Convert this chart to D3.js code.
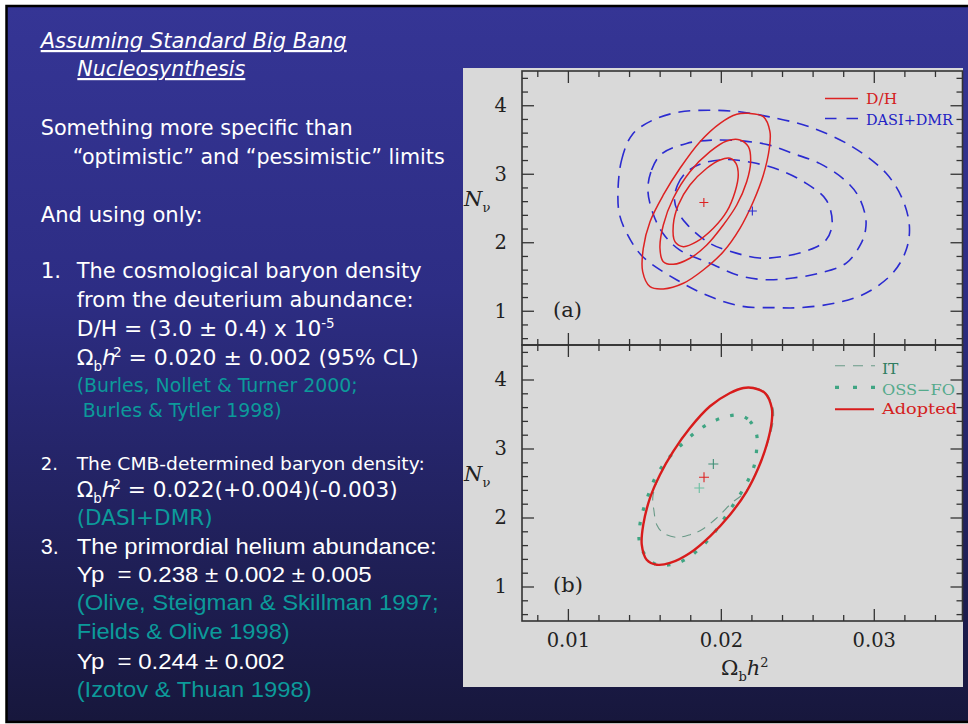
<!DOCTYPE html>
<html>
<head>
<meta charset="utf-8">
<script src="https://cdn.jsdelivr.net/npm/d3@7"></script>
<style>
  html, body { margin: 0; padding: 0; background: #fff; overflow: hidden; }
  text { white-space: pre; }
</style>
</head>
<body>
<svg id="slide" width="968" height="724"></svg>
<script>
// ---------------- data ----------------
// axis ticks
const xMajorTicks = [0.01, 0.02, 0.03];
const xMinorTicks = [0.008, 0.012, 0.014, 0.016, 0.018, 0.022, 0.024, 0.026, 0.028, 0.032, 0.034];
const yMajorTicks = [1, 2, 3, 4];
const yMinorTicks = [0.6, 0.8, 1.2, 1.4, 1.6, 1.8, 2.2, 2.4, 2.6, 2.8, 3.2, 3.4, 3.6, 3.8, 4.2, 4.4];
const xTickLabels = ["0.01", "0.02", "0.03"];
const yTickLabels = ["1", "2", "3", "4"];

// panel (a): D/H contours [Omega_b h^2, N_nu]
const dhInner = [[0.02060,3.226],[0.02099,3.153],[0.02114,2.982],[0.02093,2.738],[0.02038,2.446],[0.01951,2.204],
  [0.01842,2.008],[0.01755,1.935],[0.01700,2.008],[0.01689,2.252],[0.01722,2.544],[0.01798,2.836],[0.01908,3.080],
  [0.01995,3.201]];
const dhMiddle = [[0.02125,3.493],[0.02180,3.395],[0.02195,3.176],[0.02169,2.884],[0.02104,2.544],[0.02016,2.252],
  [0.01908,1.960],[0.01798,1.766],[0.01689,1.678],[0.01624,1.716],[0.01602,1.912],[0.01624,2.252],[0.01689,2.642],
  [0.01798,3.030],[0.01929,3.322],[0.02038,3.478]];
const dhOuter = [[0.02180,3.882],[0.02278,3.833],[0.02321,3.614],[0.02317,3.372],[0.02278,2.982],[0.02212,2.592],
  [0.02125,2.204],[0.02016,1.862],[0.01885,1.595],[0.01755,1.401],[0.01624,1.318],[0.01537,1.351],[0.01489,1.570],
  [0.01493,1.912],[0.01537,2.300],[0.01624,2.690],[0.01733,3.080],[0.01864,3.468],[0.01995,3.736],[0.02104,3.868]];

// panel (a): DASI+DMR contours
const dasiInner = [[0.01697,2.617],[0.01717,2.836],[0.01776,3.025],[0.01880,3.151],[0.02037,3.207],[0.02207,3.163],
  [0.02384,3.054],[0.02558,2.860],[0.02689,2.617],[0.02728,2.278],[0.02689,2.035],[0.02580,1.889],[0.02405,1.792],
  [0.02253,1.769],[0.02101,1.841],[0.01926,1.987],[0.01776,2.268],[0.01717,2.457]];
const dasiMiddle = [[0.01523,2.763],[0.01547,3.054],[0.01612,3.287],[0.01776,3.443],[0.01946,3.491],[0.02155,3.476],
  [0.02318,3.418],[0.02471,3.297],[0.02645,3.151],[0.02797,2.933],[0.02895,2.690],[0.02946,2.374],[0.02946,2.180],
  [0.02918,1.987],[0.02820,1.696],[0.02645,1.550],[0.02471,1.478],[0.02297,1.453],[0.02122,1.511],[0.01926,1.696],
  [0.01730,1.889],[0.01621,2.132],[0.01556,2.424]];
const dasiOuter = [[0.01327,2.690],[0.01351,3.199],[0.01423,3.578],[0.01554,3.782],[0.01730,3.902],[0.01926,3.927],
  [0.02122,3.905],[0.02318,3.830],[0.02580,3.684],[0.02861,3.393],[0.03081,3.006],[0.03190,2.617],[0.03233,2.229],
  [0.03212,1.889],[0.03124,1.550],[0.02950,1.259],[0.02754,1.114],[0.02514,1.045],[0.02358,1.045],[0.02142,1.064],
  [0.01926,1.210],[0.01710,1.453],[0.01488,1.792],[0.01384,2.137],[0.01338,2.399]];
const dhCenter = [0.01889, 2.58];
const dasiCenter = [0.02206, 2.456];

// panel (b): helium-based contours
const itContour = [[0.02212,3.884],[0.02295,3.804],[0.02341,3.587],[0.02341,3.384],[0.02302,3.051],[0.02243,2.717],
  [0.02165,2.384],[0.02071,2.210],[0.01973,1.993],[0.01875,1.823],[0.01798,1.751],[0.01711,1.713],[0.01624,1.775],
  [0.01581,1.896],[0.01563,2.094],[0.01556,2.312],[0.01602,2.620],[0.01689,2.959],[0.01798,3.297],[0.01929,3.612],
  [0.02060,3.804],[0.02147,3.877]];
const ossfoContour = [[0.02125,3.481],[0.02191,3.394],[0.02234,3.200],[0.02234,2.983],[0.02217,2.742],[0.02180,2.548],
  [0.02125,2.330],[0.02060,2.113],[0.01995,1.896],[0.01929,1.703],[0.01853,1.533],[0.01766,1.388],[0.01668,1.316],
  [0.01581,1.316],[0.01504,1.461],[0.01467,1.655],[0.01471,1.896],[0.01493,2.113],[0.01526,2.330],[0.01570,2.572],
  [0.01624,2.765],[0.01689,2.935],[0.01766,3.104],[0.01842,3.249],[0.01929,3.370],[0.02027,3.457]];
const adoptedContour = [[0.02212,3.877],[0.02289,3.804],[0.02333,3.587],[0.02333,3.394],[0.02300,3.055],[0.02245,2.717],
  [0.02169,2.380],[0.02060,2.041],[0.01929,1.728],[0.01798,1.486],[0.01668,1.341],[0.01581,1.316],[0.01515,1.388],
  [0.01483,1.606],[0.01493,1.896],[0.01537,2.283],[0.01602,2.620],[0.01689,2.959],[0.01798,3.297],[0.01929,3.612],
  [0.02060,3.804],[0.02147,3.877]];
const itCenter = [0.01951, 2.775];
const ossfoCenter = [0.01859, 2.428];
const adoptedCenter = [0.01890, 2.583];

const legendA = ["D/H", "DASI+DMR"];
const legendB = ["IT", "OSS\u2212FO", "Adopted"];

// ---------------- slide ----------------
const svg = d3.select("#slide");
const defs = svg.append("defs");
const grad = defs.append("linearGradient").attr("id", "bg").attr("x1", 0).attr("y1", 0).attr("x2", 0).attr("y2", 1);
grad.append("stop").attr("offset", "0").attr("stop-color", "#353595");
grad.append("stop").attr("offset", "0.4").attr("stop-color", "#2d2d84");
grad.append("stop").attr("offset", "1").attr("stop-color", "#17173c");

svg.append("rect").attr("width", 968).attr("height", 724).attr("fill", "#fff");
svg.append("rect").attr("x", 6.5).attr("y", 6).attr("width", 975).attr("height", 716)
  .attr("fill", "url(#bg)").attr("stroke", "#000").attr("stroke-width", 2.5);

// rich text helper: parts are [string, kind, dx] with kind in {null, 'sub', 'sup', 'it'}
function rich(g, x, y, parts, o) {
  const fs = o.size;
  const t = g.append("text").attr("x", x).attr("y", y)
    .attr("font-family", o.font).attr("font-size", fs).attr("fill", o.color || "#fff");
  if (o.italic) t.attr("font-style", "italic");
  if (o.underline) t.attr("text-decoration", "underline");
  let shift = 0;
  parts.forEach(p => {
    const [s, kind, dx] = Array.isArray(p) ? p : [p, null];
    const ts = t.append("tspan").text(s);
    const target = kind === "sub" ? fs * 0.28 : kind === "sup" ? -fs * 0.38 : 0;
    if (target - shift !== 0) ts.attr("dy", target - shift);
    shift = target;
    if (dx) ts.attr("dx", dx);
    if (kind === "sub" || kind === "sup") ts.attr("font-size", fs * 0.62);
    if (kind === "it") ts.attr("font-style", "italic");
  });
  if (o.width) t.attr("textLength", o.width).attr("lengthAdjust", "spacingAndGlyphs");
  return t;
}

const txt = svg.append("g");
const TAHOMA = "'DejaVu Sans', Verdana, sans-serif";
const ARIAL = "'Liberation Sans', Arial, sans-serif";
const TEAL = "#0c9a9a";

rich(txt, 40.7, 48, ["Assuming Standard Big Bang"], {font: TAHOMA, size: 22, italic: true, underline: true, width: 306});
rich(txt, 77.3, 76, ["Nucleosynthesis"], {font: TAHOMA, size: 22, italic: true, underline: true, width: 168});
rich(txt, 40.7, 135, ["Something more specific than"], {font: TAHOMA, size: 21.5, width: 312});
rich(txt, 72.7, 163.5, ["\u201coptimistic\u201d and \u201cpessimistic\u201d limits"], {font: TAHOMA, size: 21.5, width: 372});
rich(txt, 40.7, 221.5, ["And using only:"], {font: TAHOMA, size: 21.5, width: 162});

rich(txt, 40.7, 277.5, ["1."], {font: TAHOMA, size: 21.5});
rich(txt, 76.7, 277.5, ["The cosmological baryon density"], {font: TAHOMA, size: 21.5, width: 345});
rich(txt, 76.7, 306.5, ["from the deuterium abundance:"], {font: TAHOMA, size: 21.5, width: 337});
rich(txt, 76.7, 336, ["D/H = (3.0 \u00b1 0.4) x 10", ["-5", "sup"]], {font: TAHOMA, size: 21.5, width: 258});
rich(txt, 76.7, 365, ["\u03a9", ["b", "sub"], ["h", "it"], ["2", "sup", -3], " = 0.020 \u00b1 0.002 (95% CL)"],
  {font: TAHOMA, size: 21.5, width: 342});
rich(txt, 76.7, 391.5, ["(Burles, Nollet & Turner 2000;"], {font: TAHOMA, size: 19.5, color: TEAL, width: 281});
rich(txt, 82.7, 416.5, ["Burles & Tytler 1998)"], {font: TAHOMA, size: 19.5, color: TEAL, width: 199});

rich(txt, 40.7, 470, ["2."], {font: TAHOMA, size: 18});
rich(txt, 76.7, 470, ["The CMB-determined baryon density:"], {font: TAHOMA, size: 18, width: 348});
rich(txt, 76.7, 497, ["\u03a9", ["b", "sub"], ["h", "it"], ["2", "sup", -3], " = 0.022(+0.004)(-0.003)"],
  {font: TAHOMA, size: 21.5, width: 321});
rich(txt, 76.7, 525, ["(DASI+DMR)"], {font: TAHOMA, size: 21.5, color: TEAL, width: 136});

rich(txt, 40.7, 553.5, ["3."], {font: ARIAL, size: 21.5});
rich(txt, 76.7, 553.5, ["The primordial helium abundance:"], {font: ARIAL, size: 21.5, width: 360});
rich(txt, 76.7, 582, ["Yp  = 0.238 \u00b1 0.002 \u00b1 0.005"], {font: ARIAL, size: 21.5, width: 295});
rich(txt, 76.7, 610, ["(Olive, Steigman & Skillman 1997;"], {font: ARIAL, size: 21.5, color: TEAL, width: 362});
rich(txt, 76.7, 639, ["Fields & Olive 1998)"], {font: ARIAL, size: 21.5, color: TEAL, width: 213});
rich(txt, 76.7, 668.5, ["Yp  = 0.244 \u00b1 0.002"], {font: ARIAL, size: 21.5, width: 208});
rich(txt, 76.7, 697, ["(Izotov & Thuan 1998)"], {font: ARIAL, size: 21.5, color: TEAL, width: 235});

// ---------------- figure ----------------
const fig = svg.append("g");
fig.append("rect").attr("x", 463).attr("y", 68).attr("width", 500).attr("height", 619).attr("fill", "#d9d9d9");

const SERIF = "'DejaVu Serif', 'Liberation Serif', serif";
const x = d3.scaleLinear().domain([0.007, 0.0358]).range([522, 962.5]);
const yA = d3.scaleLinear().domain([0.5, 4.5]).range([345, 71]);
const yB = d3.scaleLinear().domain([0.5, 4.5]).range([621, 345]);

const RED = "#dd2222", BLUE = "#2b2bd0", IT_C = "#6a9a88", OSS_C = "#3fa583";

function panel(y, withXLabels) {
  const g = fig.append("g");
  const [y0, y1] = y.range();
  const [x0, x1] = x.range();
  const sides = [
    {ax: d3.axisBottom, t: `translate(0,${y0})`, s: x},
    {ax: d3.axisTop, t: `translate(0,${y1})`, s: x},
    {ax: d3.axisLeft, t: `translate(${x0},0)`, s: y},
    {ax: d3.axisRight, t: `translate(${x1},0)`, s: y}
  ];
  sides.forEach(sd => {
    const isX = sd.s === x;
    const maj = isX ? xMajorTicks : yMajorTicks;
    const min = isX ? xMinorTicks : yMinorTicks;
    [[maj, 12], [min, 6]].forEach(([vals, len]) => {
      const a = g.append("g").attr("transform", sd.t)
        .call(sd.ax(sd.s).tickValues(vals).tickSizeInner(-len).tickSizeOuter(0).tickFormat(""));
      a.select(".domain").remove();
      a.selectAll("line").attr("stroke", "#333").attr("stroke-width", 1.3);
    });
  });
  g.append("rect").attr("x", x0).attr("y", y1).attr("width", x1 - x0).attr("height", y0 - y1)
    .attr("fill", "none").attr("stroke", "#333").attr("stroke-width", 1.6);

  // y labels
  const yl = g.append("g").attr("transform", `translate(${x0},0)`)
    .call(d3.axisLeft(y).tickValues(yMajorTicks).tickSize(0).tickPadding(15)
      .tickFormat((d, i) => yTickLabels[i]));
  yl.select(".domain").remove();
  yl.selectAll("text").attr("font-family", SERIF).attr("font-size", 19.5).attr("fill", "#222");

  if (withXLabels) {
    const xl = g.append("g").attr("transform", `translate(0,${y0})`)
      .call(d3.axisBottom(x).tickValues(xMajorTicks).tickSize(0).tickPadding(12)
        .tickFormat((d, i) => xTickLabels[i]));
    xl.select(".domain").remove();
    xl.selectAll("text").attr("font-family", SERIF).attr("font-size", 19.5).attr("fill", "#222");
  }

  // N_nu
  const cy = y(2.6);
  rich(g, 464, cy + 5, [["N", "it"], ["\u03bd", "sub"]], {font: SERIF, size: 21, color: "#222"});
  return g;
}

const gA = panel(yA, false);
const gB = panel(yB, true);

// x-axis title
rich(fig, 721, 675, ["\u03a9", ["b", "sub"], ["h", "it"], ["2", "sup"]], {font: SERIF, size: 21, color: "#222"});

function contour(g, y, pts, stroke, width, dash, cap) {
  const line = d3.line().x(d => x(d[0])).y(d => y(d[1])).curve(d3.curveCatmullRomClosed.alpha(0.5));
  g.append("path").attr("d", line(pts)).attr("fill", "none")
    .attr("stroke", stroke).attr("stroke-width", width)
    .attr("stroke-dasharray", dash || null).attr("stroke-linecap", cap || "butt");
}
function plus(g, y, c, color, r) {
  const px = x(c[0]), py = y(c[1]);
  g.append("path").attr("d", `M${px - r},${py}H${px + r}M${px},${py - r}V${py + r}`)
    .attr("stroke", color).attr("stroke-width", 1.1).attr("fill", "none");
}

// panel (a)
[dasiOuter, dasiMiddle, dasiInner].forEach(c => contour(gA, yA, c, BLUE, 1.6, "12,8"));
[dhOuter, dhMiddle, dhInner].forEach(c => contour(gA, yA, c, RED, 1.5));
plus(gA, yA, dhCenter, RED, 4.5);
plus(gA, yA, dasiCenter, BLUE, 4.5);
rich(gA, 553, 316.5, ["(a)"], {font: SERIF, size: 21, color: "#222"});

// legend (a)
gA.append("line").attr("x1", 825).attr("x2", 858).attr("y1", 98.5).attr("y2", 98.5).attr("stroke", RED).attr("stroke-width", 1.5);
gA.append("line").attr("x1", 825).attr("x2", 859).attr("y1", 118.5).attr("y2", 118.5).attr("stroke", BLUE)
  .attr("stroke-width", 1.6).attr("stroke-dasharray", "11.5,10");
rich(gA, 866, 104, [legendA[0]], {font: SERIF, size: 15.5, color: "#d42020"});
rich(gA, 866, 124.5, [legendA[1]], {font: SERIF, size: 15.5, color: "#2222c4", width: 87});

// panel (b)
contour(gB, yB, itContour, IT_C, 1.1, "9,7");
contour(gB, yB, ossfoContour, OSS_C, 3.2, "3.5,11.5");
contour(gB, yB, adoptedContour, "#d81c1c", 2.4);
plus(gB, yB, itCenter, "#3f8f76", 5);
plus(gB, yB, ossfoCenter, "#6cc0a2", 5);
plus(gB, yB, adoptedCenter, RED, 5);
rich(gB, 553, 591.5, ["(b)"], {font: SERIF, size: 21, color: "#222"});

// legend (b)
gB.append("line").attr("x1", 835).attr("x2", 875).attr("y1", 365.7).attr("y2", 365.7).attr("stroke", IT_C)
  .attr("stroke-width", 1.1).attr("stroke-dasharray", "10,8");
gB.append("line").attr("x1", 835).attr("x2", 875).attr("y1", 387.3).attr("y2", 387.3).attr("stroke", OSS_C)
  .attr("stroke-width", 3.2).attr("stroke-dasharray", "4,14");
gB.append("line").attr("x1", 835).attr("x2", 874).attr("y1", 409.3).attr("y2", 409.3).attr("stroke", "#d81c1c")
  .attr("stroke-width", 2);
rich(gB, 882, 373.5, [legendB[0]], {font: SERIF, size: 15.5, color: "#2f7d60"});
rich(gB, 882, 395, [legendB[1]], {font: SERIF, size: 15.5, color: "#55aa8c", width: 73});
rich(gB, 882, 414, [legendB[2]], {font: SERIF, size: 15.5, color: "#d42020", width: 75});
</script>
</body>
</html>
